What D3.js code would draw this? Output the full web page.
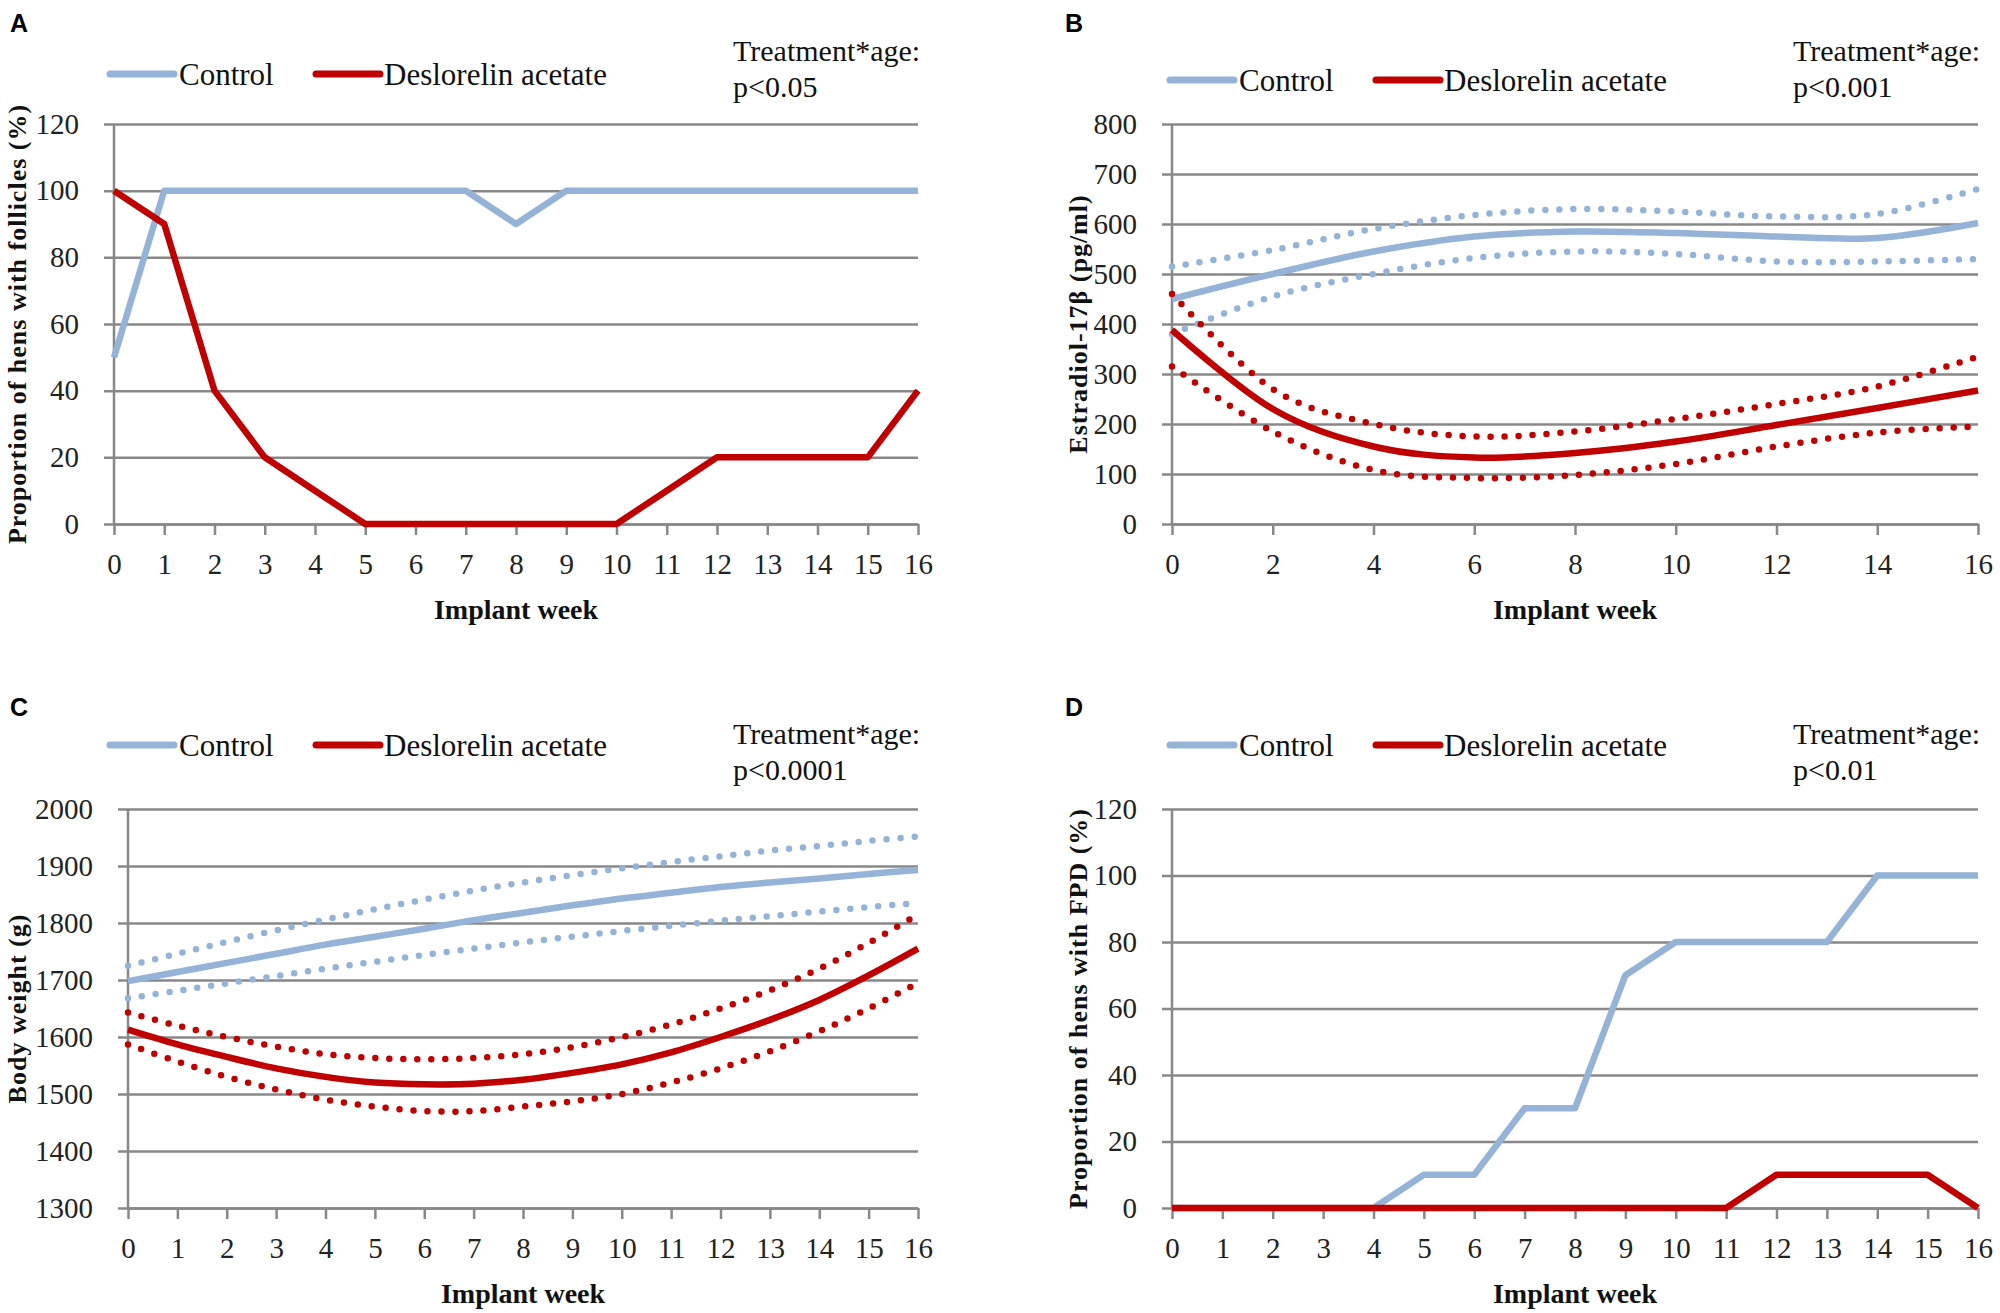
<!DOCTYPE html>
<html>
<head>
<meta charset="utf-8">
<script src="https://cdn.jsdelivr.net/npm/d3@7"></script>
<style>
  body { margin: 0; background: #fff; }
  svg { display: block; }
  .tick text { font-family: "Liberation Serif", serif; font-size: 29px; fill: #222; }
  .lbl { font-family: "Liberation Serif", serif; fill: #111; }
  .panel-letter { font-family: "Liberation Sans", Arial, sans-serif; font-weight: bold; font-size: 25px; }
</style>
</head>
<body>
<script>
// weeks and values
const weeksAll = d3.range(0, 17)
const weeksEven = [0, 2, 4, 6, 8, 10, 12, 14, 16]

// A - proportion of hens with follicles (%)
const follControl = [50, 100, 100, 100, 100, 100, 100, 100, 90, 100, 100, 100, 100, 100, 100, 100, 100]
const follDeslo   = [100, 90, 40, 20, 10, 0, 0, 0, 0, 0, 0, 10, 20, 20, 20, 20, 40]

// B - estradiol (pg/ml), mean and confidence band
const e2Control   = [450, 500, 545, 575, 585, 582, 575, 572, 602]
const e2ControlHi = [515, 548, 590, 618, 630, 625, 615, 620, 670]
const e2ControlLo = [380, 455, 500, 532, 545, 540, 525, 525, 530]
const e2Deslo     = [388, 230, 155, 133, 142, 165, 198, 232, 267]
const e2DesloHi   = [460, 270, 200, 175, 185, 210, 240, 275, 335]
const e2DesloLo   = [315, 185, 108, 92, 98, 120, 155, 183, 195]

// C - body weight (g)
const bwControl   = [1698, 1714, 1730, 1746, 1762, 1776, 1790, 1805, 1818, 1831, 1843, 1853, 1863, 1871, 1878, 1886, 1893]
const bwControlHi = [1725, 1746, 1767, 1787, 1806, 1824, 1841, 1857, 1871, 1884, 1896, 1907, 1917, 1927, 1935, 1944, 1952]
const bwControlLo = [1668, 1681, 1694, 1707, 1720, 1732, 1744, 1755, 1766, 1776, 1786, 1795, 1804, 1812, 1820, 1828, 1835]
const bwDeslo     = [1613, 1587, 1565, 1545, 1530, 1520, 1517, 1518, 1525, 1537, 1552, 1573, 1600, 1630, 1665, 1708, 1755]
const bwDesloHi   = [1643, 1620, 1600, 1583, 1570, 1563, 1561, 1563, 1570, 1582, 1600, 1622, 1650, 1682, 1720, 1765, 1815]
const bwDesloLo   = [1587, 1557, 1530, 1508, 1490, 1478, 1470, 1470, 1478, 1487, 1500, 1520, 1545, 1575, 1610, 1650, 1695]

// D - proportion of hens with FPD (%)
const fpdControl = [0, 0, 0, 0, 0, 10, 10, 30, 30, 70, 80, 80, 80, 80, 100, 100, 100]
const fpdDeslo   = [0, 0, 0, 0, 0, 0, 0, 0, 0, 0, 0, 0, 10, 10, 10, 10, 0]

const blue = '#95b3d7'
const red = '#c00000'
const grid = '#888'

const svg = d3.select('body').append('svg').attr('width', 2000).attr('height', 1313)

function panel(o) {
  const g = svg.append('g')
  const x = d3.scaleLinear().domain([0, 16]).range([o.x0, o.x1])
  const y = d3.scaleLinear().domain(o.yDomain).range([o.y1, o.y0])

  // gridlines + y labels (gridlines poke 10px left of the axis)
  const yAxis = g.append('g').attr('transform', `translate(${o.x0 - 10},0)`)
    .call(d3.axisLeft(y).tickValues(o.yTicks).tickFormat(d3.format('d')).tickSizeOuter(0).tickPadding(19))
  yAxis.select('.domain').remove()
  yAxis.selectAll('.tick line').attr('x2', o.x1 - o.x0 + 10).attr('stroke', grid).attr('stroke-width', 2.5)

  // vertical axis line
  g.append('line').attr('x1', o.x0).attr('x2', o.x0).attr('y1', o.y0).attr('y2', o.y1)
    .attr('stroke', grid).attr('stroke-width', 2.5)

  const xAxis = g.append('g').attr('transform', `translate(0,${o.y1})`)
    .call(d3.axisBottom(x).tickValues(o.xTicks).tickSize(11).tickSizeOuter(0).tickPadding(18))
  xAxis.select('.domain').attr('stroke', grid).attr('stroke-width', 2.5)
  xAxis.selectAll('.tick line').attr('stroke', grid).attr('stroke-width', 2.5)

  const curve = o.smooth ? d3.curveCardinal.tension(0) : d3.curveLinear
  o.series.forEach(s => {
    const line = d3.line().x((d, i) => x(s.weeks[i])).y(d => y(d)).curve(curve)
    g.append('path').datum(s.values).attr('d', line)
      .attr('fill', 'none').attr('stroke', s.color).attr('stroke-width', 6.5)
      .attr('stroke-linejoin', 'round')
      .attr('stroke-linecap', s.dotted ? 'round' : 'butt')
      .attr('stroke-dasharray', s.dotted ? '0 14' : null)
  })

  // axis titles
  g.append('text').attr('class', 'lbl').attr('x', (o.x0 + o.x1) / 2).attr('y', o.y1 + 95)
    .attr('text-anchor', 'middle').attr('font-weight', 'bold').attr('font-size', 28).text('Implant week')
  g.append('text').attr('class', 'lbl')
    .attr('transform', `translate(${o.yTitleX},${(o.y0 + o.y1) / 2}) rotate(-90)`)
    .attr('text-anchor', 'middle').attr('font-weight', 'bold').attr('font-size', 26)
    .attr('letter-spacing', 1).text(o.yTitle)

  // panel letter
  g.append('text').attr('class', 'panel-letter').attr('x', o.letterX).attr('y', o.letterY).text(o.letter)

  // legend
  const ly = o.legendY
  g.append('line').attr('x1', o.legendX).attr('x2', o.legendX + 64).attr('y1', ly).attr('y2', ly)
    .attr('stroke', blue).attr('stroke-width', 7).attr('stroke-linecap', 'round')
  g.append('text').attr('class', 'lbl').attr('x', o.legendX + 69).attr('y', ly + 11).attr('font-size', 31).text('Control')
  g.append('line').attr('x1', o.legendX + 206).attr('x2', o.legendX + 270).attr('y1', ly).attr('y2', ly)
    .attr('stroke', red).attr('stroke-width', 7).attr('stroke-linecap', 'round')
  g.append('text').attr('class', 'lbl').attr('x', o.legendX + 274).attr('y', ly + 11).attr('font-size', 31).text('Deslorelin acetate')

  // significance note
  g.append('text').attr('class', 'lbl').attr('x', o.noteX).attr('y', o.noteY).attr('font-size', 30).text('Treatment*age:')
  g.append('text').attr('class', 'lbl').attr('x', o.noteX).attr('y', o.noteY + 36).attr('font-size', 30).text(o.p)
}

const pctTicks = d3.range(0, 121, 20)

panel({
  letter: 'A', letterX: 10, letterY: 32,
  x0: 114, x1: 918, y0: 124, y1: 524,
  yDomain: [0, 120], yTicks: pctTicks, xTicks: weeksAll, smooth: false,
  yTitle: 'Proportion of hens with follicles (%)', yTitleX: 26,
  legendX: 110, legendY: 74, noteX: 733, noteY: 61, p: 'p<0.05',
  series: [
    { weeks: weeksAll, values: follControl, color: blue },
    { weeks: weeksAll, values: follDeslo, color: red }
  ]
})

panel({
  letter: 'B', letterX: 1065, letterY: 32,
  x0: 1172, x1: 1978, y0: 124, y1: 524,
  yDomain: [0, 800], yTicks: d3.range(0, 801, 100), xTicks: weeksEven, smooth: true,
  yTitle: 'Estradiol-17β (pg/ml)', yTitleX: 1087,
  legendX: 1170, legendY: 80, noteX: 1793, noteY: 61, p: 'p<0.001',
  series: [
    { weeks: weeksEven, values: e2ControlHi, color: blue, dotted: true },
    { weeks: weeksEven, values: e2ControlLo, color: blue, dotted: true },
    { weeks: weeksEven, values: e2Control, color: blue },
    { weeks: weeksEven, values: e2DesloHi, color: red, dotted: true },
    { weeks: weeksEven, values: e2DesloLo, color: red, dotted: true },
    { weeks: weeksEven, values: e2Deslo, color: red }
  ]
})

panel({
  letter: 'C', letterX: 10, letterY: 716,
  x0: 128, x1: 918, y0: 809, y1: 1208,
  yDomain: [1300, 2000], yTicks: d3.range(1300, 2001, 100), xTicks: weeksAll, smooth: true,
  yTitle: 'Body weight (g)', yTitleX: 26,
  legendX: 110, legendY: 745, noteX: 733, noteY: 744, p: 'p<0.0001',
  series: [
    { weeks: weeksAll, values: bwControlHi, color: blue, dotted: true },
    { weeks: weeksAll, values: bwControlLo, color: blue, dotted: true },
    { weeks: weeksAll, values: bwControl, color: blue },
    { weeks: weeksAll, values: bwDesloHi, color: red, dotted: true },
    { weeks: weeksAll, values: bwDesloLo, color: red, dotted: true },
    { weeks: weeksAll, values: bwDeslo, color: red }
  ]
})

panel({
  letter: 'D', letterX: 1065, letterY: 716,
  x0: 1172, x1: 1978, y0: 809, y1: 1208,
  yDomain: [0, 120], yTicks: pctTicks, xTicks: weeksAll, smooth: false,
  yTitle: 'Proportion of hens with FPD (%)', yTitleX: 1087,
  legendX: 1170, legendY: 745, noteX: 1793, noteY: 744, p: 'p<0.01',
  series: [
    { weeks: weeksAll, values: fpdControl, color: blue },
    { weeks: weeksAll, values: fpdDeslo, color: red }
  ]
})
</script>
</body>
</html>
